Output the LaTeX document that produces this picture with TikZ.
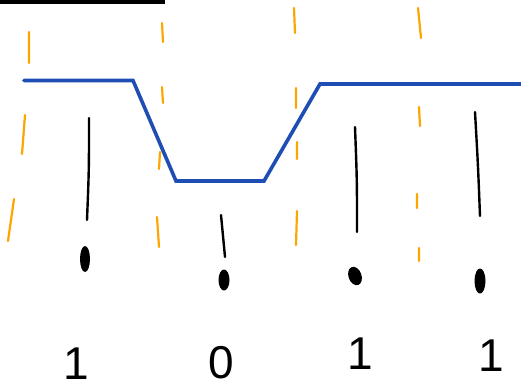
\documentclass[tikz,border=0pt]{standalone}
\usepackage{fontspec}
\setmainfont{Liberation Sans}
\definecolor{markorange}{RGB}{255,165,0}
\definecolor{levelblue}{RGB}{30,77,180}
\tikzset{
  cut/.style={markorange, line width=2.2pt, line cap=round},
  pen/.style={black, line width=2.4pt, line cap=round},
  level/.style={levelblue, line width=3.6pt, line join=miter},
  blob/.style={black},
  digit/.style={font=\fontsize{46}{46}\selectfont, inner sep=0pt}
}
\begin{document}
\begin{tikzpicture}[x=1pt, y=-1pt, line join=round, line cap=round]
      \useasboundingbox (0,0) rectangle (521,391);
      % bar at the top
      \draw[black, line width=4pt, line cap=butt] (0,1.5)--(165,1.5);
      % orange dashed marks
      \draw[cut] (29,32)--(29,63) (25,115)--(22,154) (14,199)--(8,241);
      \draw[cut] (162,23)--(163,42) (162,87)--(163,103) (160,152)--(159,169) (157,217)--(159,247);
      \draw[cut] (294,8)--(295,33) (296,88)--(296,108) (297,142)--(297,159) (297,211)--(296,245);
      \draw[cut] (418,8)--(421,38) (419,107)--(420,126) (417,194)--(417,208) (419,248)--(419,261);
      % blue level line
      \draw[level] (24,80.5)--(133,80.5)--(176,181)--(264,181)--(320,84)--(521,84);
      % black strokes
      \draw[pen] (89,118) .. controls (89,170) .. (87,220);
      \draw[pen] (221,215)--(225,257);
      \draw[pen] (355,127) .. controls (357,180) .. (357,232);
      \draw[pen] (475,112) .. controls (478,165) .. (480,216);
      % dots
      \fill[blob] (85,259) ellipse[x radius=5, y radius=13];
      \fill[blob] (224,280) ellipse[x radius=5.5, y radius=10.5];
      \fill[blob, rotate around={20:(355,276)}] (355,276) ellipse[x radius=6.5, y radius=9.5];
      \fill[blob] (480,281) ellipse[x radius=5.5, y radius=12.5];
      % bit values
      \node[digit] (bitA) at (76,364) {1};
      \node[digit] (bitB) at (221,363) {0};
      \node[digit] (bitC) at (360,354) {1};
      \node[digit] (bitD) at (491,356) {1};
    \end{tikzpicture}
\end{document}
